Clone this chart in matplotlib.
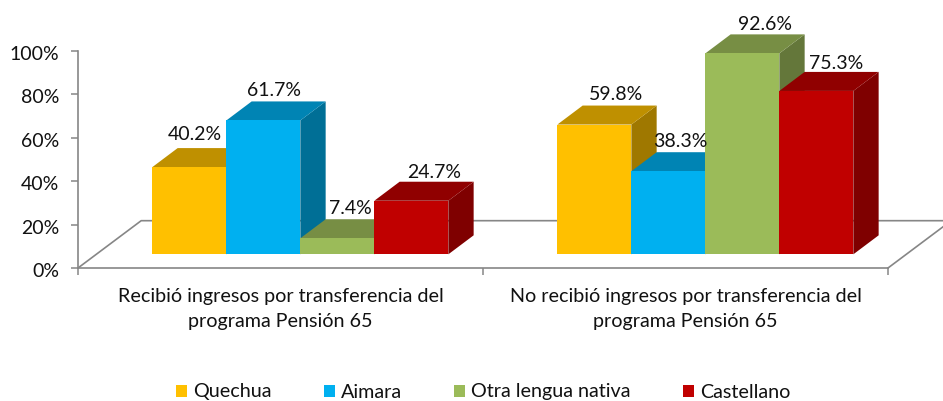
#3d looking column chart, drawn on plain 2d axes with offset polygons for tops and sides

import matplotlib
matplotlib.use("Agg")
import matplotlib.pyplot as plt
from matplotlib.patches import Polygon, Patch
from matplotlib.transforms import ScaledTranslation

plt.rcParams['font.family'] = ['Lato', 'DejaVu Sans']

categories = ["Recibió ingresos por transferencia del\nprograma Pensión 65",
              "No recibió ingresos por transferencia del\nprograma Pensión 65"]
series_names = ["Quechua", "Aimara", "Otra lengua nativa", "Castellano"]
quechua = [40.2, 59.8]
aimara = [61.7, 38.3]
otra = [7.4, 92.6]
castellano = [24.7, 75.3]
y_ticks = [0, 20, 40, 60, 80, 100]

front_colors = ["#FFC000", "#00B0F0", "#9BBB59", "#C00000"]
top_colors = ["#BF9000", "#0084B4", "#778E44", "#900000"]
side_colors = ["#9F7800", "#006F96", "#64773A", "#7F0000"]
axis_color = "#868686"

# 3d look, in data units
bar_w = 0.1827
group_shift = 0.049
base = 6.3
depth_x = 0.0625
depth_y = 8.76
floor_x = 0.156
floor_y = 21.8

# label offset from the bar top centre, in pixels
label_dx = [[5, 22], [11, 12], [13, 23], [23, 20]]
label_dy = [[33, 30], [30, 30], [30, 29], [28, 27]]

fig = plt.figure(figsize=(9.43, 4.01), dpi=100)
ax = fig.add_axes([78 / 943, 133 / 401, 810 / 943, 217 / 401])
ax.set_xlim(-0.5, 1.5)
ax.set_ylim(0, 100)

# floor outline behind the bars
ax.plot([-0.5, -0.5 + floor_x, 1.5 + floor_x, 1.5], [0, floor_y, floor_y, 0],
        color=axis_color, lw=1.2, clip_on=False, zorder=1)

all_values = [quechua, aimara, otra, castellano]
z = 3
for g in range(len(categories)):
    for s in range(len(series_names)):
        val = all_values[s][g]
        left = g + group_shift + (s - 2) * bar_w
        right = left + bar_w
        top = base + val

        ax.bar(left, val, width=bar_w, bottom=base, align='edge',
               color=front_colors[s], linewidth=0, zorder=z + 2)
        ax.add_patch(Polygon([(right, base), (right + depth_x, base + depth_y),
                              (right + depth_x, top + depth_y), (right, top)],
                             closed=True, facecolor=side_colors[s], edgecolor='none',
                             clip_on=False, zorder=z))
        ax.add_patch(Polygon([(left, top), (left + depth_x, top + depth_y),
                              (right + depth_x, top + depth_y), (right, top)],
                             closed=True, facecolor=top_colors[s], edgecolor='none',
                             clip_on=False, zorder=z + 1))
        ax.annotate("{:.1f}%".format(val), xy=(left + bar_w / 2, top),
                    xytext=(label_dx[s][g], label_dy[s][g]), textcoords='offset pixels',
                    ha='center', va='center', fontsize=14, color="#111111",
                    annotation_clip=False, zorder=30)
        z += 3

for name in ['top', 'right']:
    ax.spines[name].set_visible(False)
for name in ['left', 'bottom']:
    ax.spines[name].set_color(axis_color)
    ax.spines[name].set_linewidth(1.2)

ax.set_yticks(y_ticks)
ax.set_yticklabels(["{}%".format(t) for t in y_ticks], fontsize=14, color="#111111")
ax.tick_params(axis='y', length=5, width=1.1, color=axis_color, pad=8.5)
# tick labels sit a little lower than the ticks
nudge = ScaledTranslation(0, -1.5 / 72, fig.dpi_scale_trans)
for lab in ax.get_yticklabels():
    lab.set_transform(lab.get_transform() + nudge)

ax.set_xticks([-0.5, 0.5, 1.5])
ax.set_xticklabels([])
ax.set_xticks([0, 1], minor=True)
ax.set_xticklabels(categories, minor=True, fontsize=14.2, color="#111111", linespacing=1.59)
ax.tick_params(axis='x', which='major', length=5, width=1.1, color=axis_color)
ax.tick_params(axis='x', which='minor', length=0, pad=14.5)

handles = [Patch(facecolor=c, edgecolor='none') for c in front_colors]
fig.legend(handles, series_names, ncol=4, loc='center', bbox_to_anchor=(483 / 943, 1 - 392 / 401),
           frameon=False, fontsize=14.2, labelcolor="#111111", handlelength=0.56, handleheight=0.56,
           handletextpad=0.3, columnspacing=2.65, borderpad=0, borderaxespad=0)

fig.savefig("out.png", dpi=100)
